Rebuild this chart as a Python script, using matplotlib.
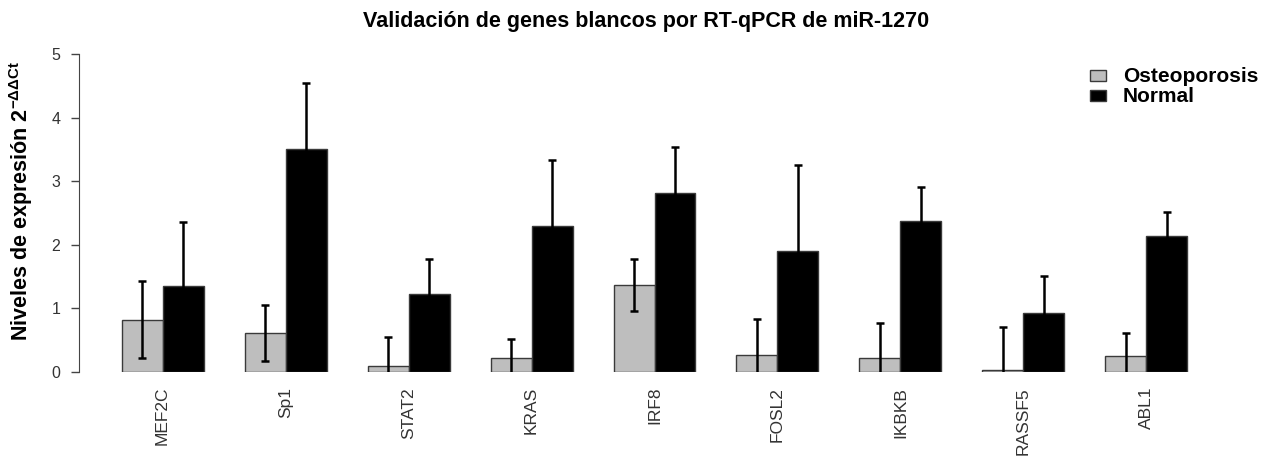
import matplotlib
matplotlib.use("Agg")
import matplotlib.pyplot as plt
from matplotlib.patches import Rectangle
import numpy as np

plt.rcParams['font.family'] = ['Liberation Sans', 'DejaVu Sans']

genes = ["MEF2C", "Sp1", "STAT2", "KRAS", "IRF8", "FOSL2", "IKBKB", "RASSF5", "ABL1"]
osteo_mean = [0.82, 0.61, 0.09, 0.22, 1.36, 0.26, 0.21, 0.03, 0.24]
osteo_sd = [0.61, 0.44, 0.46, 0.30, 0.41, 0.57, 0.56, 0.67, 0.37]
normal_mean = [1.35, 3.50, 1.22, 2.30, 2.81, 1.90, 2.37, 0.93, 2.14]
normal_sd = [1.00, 1.05, 0.56, 1.03, 0.72, 1.36, 0.54, 0.57, 0.37]
yticks = [0, 1, 2, 3, 4, 5]
legend_labels = ["Osteoporosis", "Normal"]

GRAY = "#BEBEBE"
EDGE = "#3a3a3a"
W, H = 1280, 459

fig = plt.figure(figsize=(12.8, 4.59), dpi=100)
ax = fig.add_axes([79/W, (H-371.7)/H, (1230-79)/W, (371.7-41.3)/H])

n = len(genes)
group = np.arange(n) * 3
x_o = group + 1.5
x_n = group + 2.5

ax.bar(x_o, osteo_mean, width=1.0, color=GRAY, edgecolor=EDGE, linewidth=1.0, zorder=2)
ax.bar(x_n, normal_mean, width=1.0, color="black", edgecolor=EDGE, linewidth=1.0, zorder=2)

ax.errorbar(x_o, osteo_mean, yerr=osteo_sd, fmt='none', ecolor='black', elinewidth=1.8,
            capsize=3, capthick=1.8, zorder=3, clip_on=True)
ax.errorbar(x_n, normal_mean, yerr=normal_sd, fmt='none', ecolor='black', elinewidth=1.8,
            capsize=3, capthick=1.8, zorder=3, clip_on=True)

ax.set_xlim(-0.04, 28.04)
ax.set_ylim(0, 5.2)

for s in ['top', 'right', 'bottom']:
    ax.spines[s].set_visible(False)
ax.spines['left'].set_bounds(0, 5)
ax.spines['left'].set_color('#444444')

ax.set_yticks(yticks)
ax.set_yticklabels([str(t) for t in yticks], fontsize=11.5, color='#333333')
ax.tick_params(axis='y', length=5.5, width=1, color='#444444', pad=8)

ax.set_xticks(group + 2.0)
ax.set_xticklabels(genes, rotation=90, fontsize=12.5, color='#333333', va='top')
ax.tick_params(axis='x', length=0, pad=11)

fig.text(21/W, 1 - 201/H, r'Niveles de expresión 2$^{\mathregular{-\Delta\Delta Ct}}$',
         rotation=90, va='center', ha='center', fontsize=15.5, fontweight='bold')

fig.text(646/W, 1 - 27/H, "Validación de genes blancos por RT-qPCR de miR-1270",
         ha='center', va='baseline', fontsize=15.5, fontweight='bold')

# legend
leg_colors = [GRAY, "black"]
leg_y = [75, 95]
for lab, col, yc in zip(legend_labels, leg_colors, leg_y):
    fig.add_artist(Rectangle((1090/W, 1 - (yc + 5.5)/H), 16/W, 11/H, transform=fig.transFigure,
                             facecolor=col, edgecolor=EDGE, linewidth=1.0))
    fig.text(1123/W, 1 - (yc + 7)/H, lab, ha='left', va='baseline', fontsize=15,
             fontweight='bold')

fig.savefig("out.png", dpi=100)
